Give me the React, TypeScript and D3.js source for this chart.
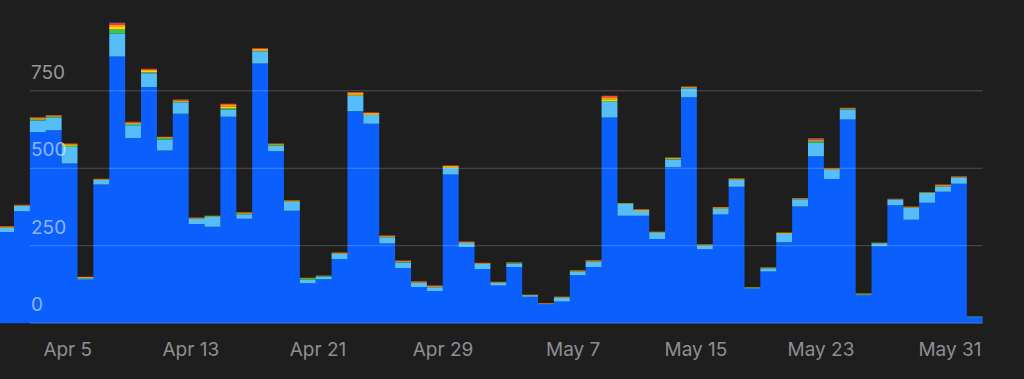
import React from "react";
import * as d3 from "d3";

// One bar per day, Mar 31 .. May 31
const startDate = new Date(Date.UTC(2024, 2, 31));
const blue = [294,361,617,623,515,141,448,861,598,762,557,676,320,311,666,337,838,555,363,129,142,207,684,644,257,178,117,104,480,246,175,122,181,85,61,70,155,181,664,347,347,272,503,729,239,351,440,112,167,261,377,539,465,657,90,248,381,334,389,424,450,19];
const lightBlue = [13,17,37,41,54,4,14,73,41,45,35,37,17,32,24,15,40,18,28,11,8,16,49,28,20,18,13,12,21,13,16,8,12,5,2,13,12,17,50,38,15,20,25,29,12,18,23,2,10,27,23,43,30,33,3,10,17,38,31,17,20,2];
const green = [1,1,3,2,4,1,1,14,4,3,5,2,1,2,4,1,1,2,2,5,2,1,2,1,1,2,1,1,1,1,1,1,1,0.6,0,0,1,1,3,1,1,1,2,1,1,1,1,1,1,1,1,5,1,1,1,1,1,1,1,1,1,1];
const yellow = [2,1,3,2,3,2,1,8,2,4,2,2,1,1,5,2,3,2,2,1,1,2,4,2,2,2,1,1,2,1,1,1,1,0.5,0,1,1,1,6,1,2,1,2,2,1,2,1,1,1,2,1,3,2,2,1,1,1,1,1,2,1,0];
const orange = [2,1,3,2,2,1,1,7,2,4,2,2,1,1,5,2,3,2,1,0,0,1,5,3,2,1,1,2,3,1,1,1,1,0.5,1,1,1,2,6,1,2,1,2,2,1,2,1,0,1,1,1,3,1,1,1,0,0,2,1,2,1,0];
const red = [2,1,2,1,2,1,1,5,3,3,1,3,1.5,0,4,1,2,1,1,0.5,0,1,2,2,1,1,2,2,2,2,1,1,0,0,1,0,1,1,5,0,1,0,1,1,1,1,2,0,0,1,1,2,1,1,0,0,1,1,0,2,1,0];
const purple = [0,0,0,0,0,0,0,2,0,0,0,0,0,0,0,0,0,0,0,0,0,0,0,0,0,0,0,0,0,0,0,0,0,0,0,0,0,0,0,0,0,0,0,0,0,0,0,0,0,0,0,2,0,0,0,0,0.8,0,0,0,0,0];

const yTicks = [0, 250, 500, 750];
const xTickDates = ["2024-04-05","2024-04-13","2024-04-21","2024-04-29","2024-05-07","2024-05-15","2024-05-23","2024-05-31"];

const keys = ["blue","lightBlue","green","yellow","orange","red","purple"];
const colors: Record<string,string> = {
  blue: "#0b60fd",
  lightBlue: "#55bdf8",
  green: "#33c759",
  yellow: "#ffd60a",
  orange: "#ff9f0a",
  red: "#ff453a",
  purple: "#bf5af2",
};

const W = 1024, H = 379;

export default function App() {
  const day = 86400000;
  const rows = blue.map((b, i) => ({
    date: new Date(startDate.getTime() + i * day),
    blue: b, lightBlue: lightBlue[i], green: green[i], yellow: yellow[i],
    orange: orange[i], red: red[i], purple: purple[i],
  }));
  const endDate = new Date(startDate.getTime() + rows.length * day);
  const x = d3.scaleUtc().domain([startDate, endDate]).range([-1.9, 982.7]);
  const y = d3.scaleLinear().domain([0, 750]).range([323.2, 90.8]);
  const series = d3.stack<any>().keys(keys)(rows);
  const fmt = d3.utcFormat("%b %-d");
  const font = "Inter, 'Open Sans', sans-serif";

  type P = { t: Date; y0: number; y1: number };
  const area = d3.area<P>().x((p) => x(p.t)).y0((p) => y(p.y0)).y1((p) => y(p.y1));

  return (
    <svg width={W} height={H} style={{ position: "absolute", left: 0, top: 0, display: "block" }}>
      <rect x={0} y={0} width={W} height={H} fill="#1e1e1e" />
      {series.map((s) => {
        const pts: P[] = [];
        s.forEach((d, i) => {
          const t0 = rows[i].date;
          const t1 = new Date(t0.getTime() + day);
          const top = d[1] > d[0] ? d[1] + (s.key === "blue" ? 0 : 0) : d[0];
          pts.push({ t: t0, y0: d[0], y1: top });
          pts.push({ t: t1, y0: d[0], y1: top });
        });
        return <path key={s.key} d={area(pts) || ""} fill={colors[s.key]} />;
      })}
      {yTicks.map((t) => (
        <g key={t}>
          <line x1={30} x2={982.7} y1={y(t)} y2={y(t)} stroke="#ffffff" strokeOpacity={0.22} strokeWidth={1} />
          <text x={31} y={y(t) - 12} fill="#ffffff" fillOpacity={0.55} fontFamily={font} fontSize={19}>{t}</text>
        </g>
      ))}
      {xTickDates.map((s) => {
        const dt = new Date(s + "T00:00:00Z");
        const xe = x(new Date(dt.getTime() + day)) - 1.2;
        return (
          <text key={s} x={xe} y={356} textAnchor="end" fill="#8e8e93" fontFamily={font} fontSize={19}>{fmt(dt)}</text>
        );
      })}
    </svg>
  );
}
